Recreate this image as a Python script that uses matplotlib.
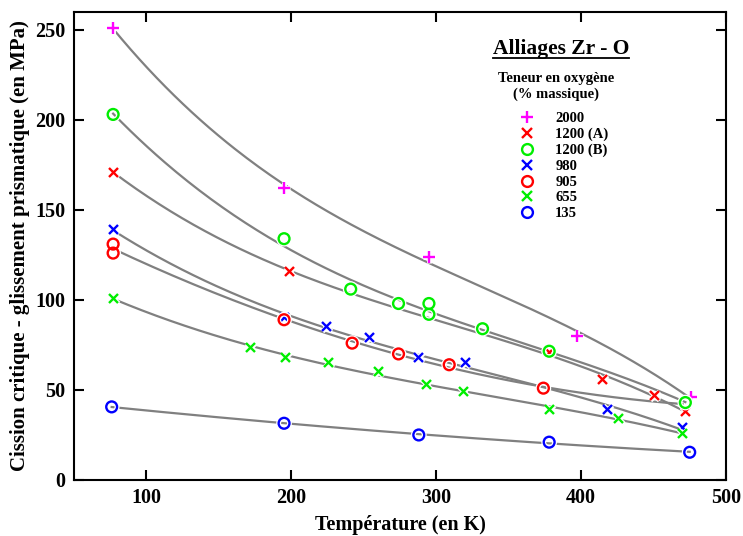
import numpy as np
import matplotlib
matplotlib.use('Agg')
import matplotlib.pyplot as plt
import matplotlib.patheffects as pe
from matplotlib.lines import Line2D

# data (T in K, tau in MPa)
labels = ['2000', '1200 (A)', '1200 (B)', '980', '905', '655', '135']

t_2000 = [77, 195, 295, 397, 476]
s_2000 = [251, 162, 124, 80, 46]

t_1200a = [77, 199, 378, 415, 451, 472]
s_1200a = [171, 116, 71, 56, 47, 38]

t_1200b = [77, 195, 241, 274, 295, 295, 332, 378, 472]
s_1200b = [203, 134, 106, 98, 98, 92, 84, 71.5, 43]

t_980 = [77, 195, 224, 254, 288, 320, 418, 470]
s_980 = [139, 90, 85, 79, 68, 65, 39, 29]

t_905 = [77, 77, 195, 242, 274, 309, 374]
s_905 = [131, 126, 89, 76, 70, 64, 51]

t_655 = [77, 172, 196, 226, 260, 293, 319, 378, 426, 470]
s_655 = [101, 73.5, 68, 65, 60, 53, 49, 39.4, 34, 26]

t_135 = [76, 195, 288, 378, 475]
s_135 = [40.6, 31.5, 25, 21, 15.4]

series = [(t_2000, s_2000), (t_1200a, s_1200a), (t_1200b, s_1200b), (t_980, s_980),
          (t_905, s_905), (t_655, s_655), (t_135, s_135)]

# styles
markers = ['+', 'x', 'o', 'x', 'o', 'x', 'o']
colors = ['#ff00ff', '#ff0000', '#00ee00', '#0000ff', '#ff0000', '#00ee00', '#0000ff']
msizes = [8.5, 6.5, 7.8, 6.5, 7.8, 6.5, 7.8]
fit_deg = [3, 3, 3, 3, 2, 3, 2]
fit_end = [476, 472, 472, 470, 470, 470, 475]

plt.rcParams['font.family'] = ['Liberation Serif', 'DejaVu Serif']
plt.rcParams['font.weight'] = 'bold'

fig = plt.figure(figsize=(7.43, 5.36), dpi=100)
ax = fig.add_axes([0.0996, 0.1045, 0.8774, 0.8735])

halo = [pe.Stroke(linewidth=3.5, foreground='white'), pe.Normal()]

# smooth trend curves (polynomial fits of the points)
for (t, s), deg, t_end in zip(series, fit_deg, fit_end):
    coef = np.polyfit(t, s, deg)
    tt = np.linspace(min(t), t_end, 200)
    ax.plot(tt, np.polyval(coef, tt), color='#808080', lw=1.6, zorder=2)

for (t, s), lab, m, c, ms in zip(series, labels, markers, colors, msizes):
    ax.plot(t, s, ls='none', marker=m, ms=ms, mec=c, mfc='none', mew=1.7,
            label=lab, zorder=3, path_effects=halo)

ax.set_xlim(50, 500)
ax.set_ylim(0, 260)
ax.set_xticks([100, 200, 300, 400, 500])
ax.set_yticks([0, 50, 100, 150, 200, 250])
ax.tick_params(direction='in', length=7, width=1.5, top=True, right=True,
               labelsize=14.5, pad=6)
for sp in ax.spines.values():
    sp.set_linewidth(1.5)

ax.set_xlabel('Température (en K)', fontsize=14.5, fontweight='bold', labelpad=5)
ax.set_ylabel('Cission critique - glissement prismatique (en MPa)', fontsize=15,
              fontweight='bold', labelpad=4)

# legend
leg_handles = [Line2D([], [], ls='none', marker=m, ms=ms, mec=c, mfc='none', mew=1.7)
               for m, c, ms in zip(markers, colors, msizes)]
ax.legend(leg_handles, labels, loc='upper left', bbox_to_anchor=(0.684, 0.787),
          frameon=False, borderpad=0, borderaxespad=0, handlelength=1.0,
          handletextpad=1.42, labelspacing=0.18, prop={'size': 10.5, 'weight': 'bold'})
fig.text(0.748, 0.839, 'Teneur en oxygène\n(% massique)', fontsize=10.5,
         fontweight='bold', ha='center', va='center', linespacing=1.3)

title = fig.text(0.755, 0.908, 'Alliages Zr - O', fontsize=15.5, fontweight='bold',
                 ha='center', va='center')
fig.canvas.draw()
bb = title.get_window_extent().transformed(fig.transFigure.inverted())
fig.add_artist(Line2D([bb.x0, bb.x1], [bb.y0 + 0.002, bb.y0 + 0.002],
                      transform=fig.transFigure, color='black', lw=1.3))

fig.savefig('out.png', dpi=100)
